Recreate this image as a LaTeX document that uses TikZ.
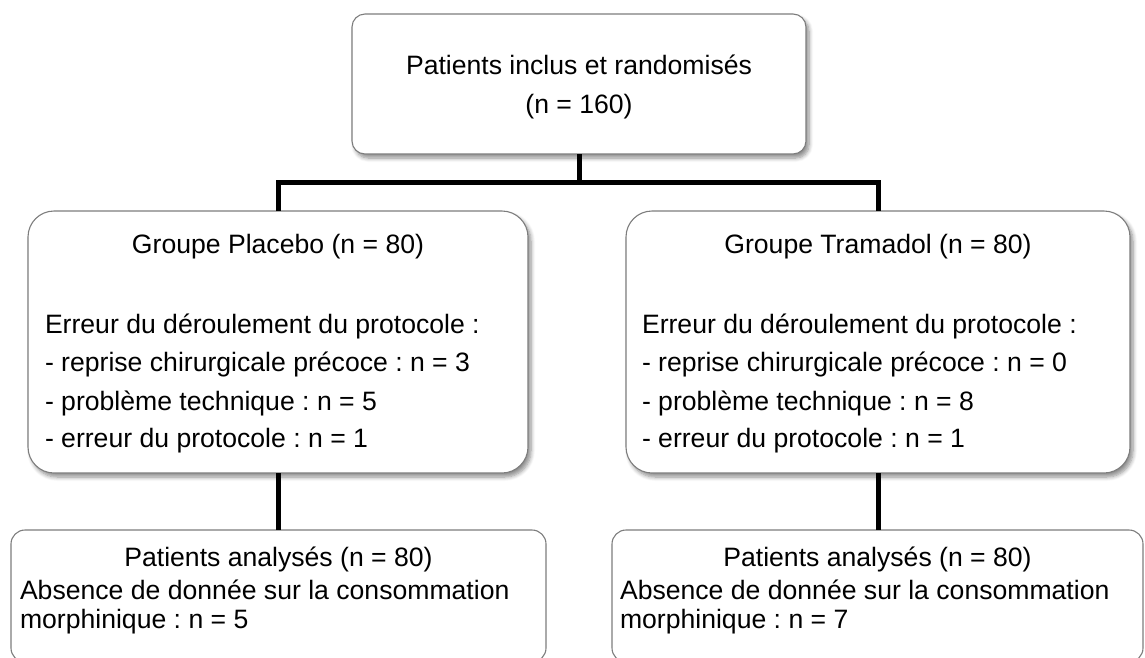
\documentclass[tikz,border=0pt]{standalone}
\usepackage{fontspec}
\setmainfont{Liberation Sans}
\usetikzlibrary{shadows.blur}
\frenchspacing
\definecolor{boxline}{RGB}{125,125,125}
\tikzset{
  box/.style={draw=boxline, line width=1.1pt, fill=white, rectangle, inner sep=0pt, outer sep=0pt},
  shadowed/.style={blur shadow={shadow xshift=3pt, shadow yshift=-4pt, shadow blur steps=6, shadow blur radius=4pt, shadow opacity=45}},
  conn/.style={line width=5pt, black, line join=miter},
  txt/.style={inner sep=0pt, outer sep=0pt, font=\fontsize{26.6pt}{38.5pt}\selectfont},
}
\begin{document}
\begin{tikzpicture}[x=1pt, y=-1pt]
\useasboundingbox (0,0) rectangle (1145,657);
% boxes
\node[box, shadowed, rounded corners=13pt, minimum width=454pt, minimum height=140pt] (top) at (579,84) {};
\node[box, shadowed, rounded corners=26pt, minimum width=500pt, minimum height=262pt] (gl) at (278,342) {};
\node[box, shadowed, rounded corners=26pt, minimum width=504pt, minimum height=262pt] (gr) at (878,342) {};
\node[box, rounded corners=14pt, minimum width=535pt, minimum height=132pt] (bl) at (278.5,596) {};
\node[box, rounded corners=14pt, minimum width=531pt, minimum height=132pt] (br) at (877.5,596) {};
% connectors
\coordinate (j) at (579,182);
\draw[conn] (top.south) -- (j);
\draw[conn] (gl.north) -- (gl.north |- j) -- (gr.north |- j) -- (gr.north);
\draw[conn] (gl.south) -- (gl.south |- bl.north);
\draw[conn] (gr.south) -- (gr.south |- br.north);
% texts: top
\node[txt, anchor=base] (t1) at (579,74) {Patients inclus et randomisés};
\node[txt, anchor=base] (t2) at (579,113) {(n = 160)};
% left group
\node[txt, anchor=base] (l0) at (278,253) {Groupe Placebo (n = 80)};
\node[txt, anchor=base west] (l1) at (45,333) {Erreur du déroulement du protocole :};
\node[txt, anchor=base west] (l2) at (45,371) {- reprise chirurgicale précoce : n = 3};
\node[txt, anchor=base west] (l3) at (45,410) {- problème technique : n = 5};
\node[txt, anchor=base west] (l4) at (45,447) {- erreur du protocole : n = 1};
% right group
\node[txt, anchor=base] (r0) at (878,253) {Groupe Tramadol (n = 80)};
\node[txt, anchor=base west] (r1) at (642,333) {Erreur du déroulement du protocole :};
\node[txt, anchor=base west] (r2) at (642,371) {- reprise chirurgicale précoce : n = 0};
\node[txt, anchor=base west] (r3) at (642,410) {- problème technique : n = 8};
\node[txt, anchor=base west] (r4) at (642,447) {- erreur du protocole : n = 1};
% bottom left
\node[txt, anchor=base] (bl0) at (278.5,566) {Patients analysés (n = 80)};
\node[txt, anchor=base west] (bl1) at (20,599) {Absence de donnée sur la consommation};
\node[txt, anchor=base west] (bl2) at (20,628) {morphinique : n = 5};
% bottom right
\node[txt, anchor=base] (br0) at (877.5,566) {Patients analysés (n = 80)};
\node[txt, anchor=base west] (br1) at (620,599) {Absence de donnée sur la consommation};
\node[txt, anchor=base west] (br2) at (620,628) {morphinique : n = 7};
\end{tikzpicture}
\end{document}
